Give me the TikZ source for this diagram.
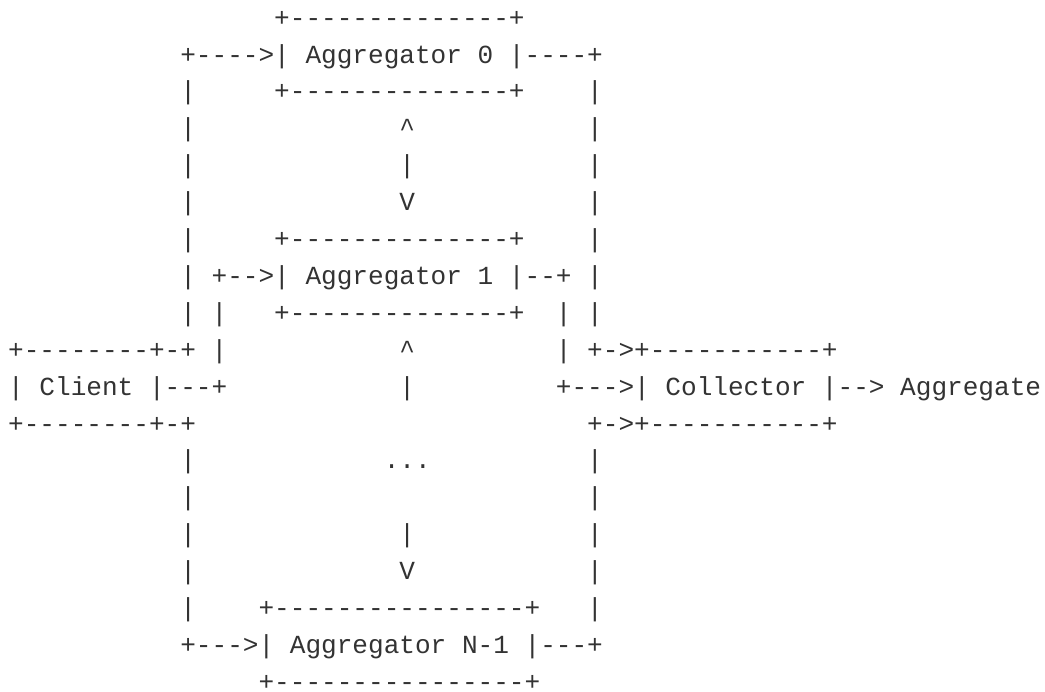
\documentclass[tikz,border=0pt]{standalone}
\usepackage{fontspec}
\setmonofont{Liberation Mono}
\definecolor{ink}{HTML}{333333}
\tikzset{asc/.style={anchor=base west, inner sep=0pt, outer sep=0pt, text depth=0pt,
  font=\ttfamily\fontsize{26.08}{30}\selectfont, text=ink}}
% \seg{name}{row}{column}{text}
\newcommand\seg[4]{\node[asc] (#1) at ({8.175+15.65*#3},{26.2+36.9*(#2-1)}) {#4};}
\begin{document}
\begin{tikzpicture}[x=1pt,y=-1pt]
\fill[white] (0,0) rectangle (1045,692);
\useasboundingbox (0,0) rectangle (1045,692);
% row 1
\seg{aggzt}{1}{17}{+--------------+}
% row 2
\seg{aggzl}{2}{11}{+---->|}
\seg{aggzn}{2}{19}{Aggregator}
\seg{aggzi}{2}{30}{0}
\seg{aggzr}{2}{32}{|----+}
% row 3
\seg{r3a}{3}{11}{|}
\seg{aggzb}{3}{17}{+--------------+}
\seg{r3b}{3}{37}{|}
% row 4
\seg{r4a}{4}{11}{|}
\seg{r4b}{4}{25}{\textasciicircum}
\seg{r4c}{4}{37}{|}
% row 5
\seg{r5a}{5}{11}{|}
\seg{r5b}{5}{25}{|}
\seg{r5c}{5}{37}{|}
% row 6
\seg{r6a}{6}{11}{|}
\seg{r6b}{6}{25}{V}
\seg{r6c}{6}{37}{|}
% row 7
\seg{r7a}{7}{11}{|}
\seg{aggot}{7}{17}{+--------------+}
\seg{r7b}{7}{37}{|}
% row 8
\seg{r8a}{8}{11}{|}
\seg{aggol}{8}{13}{+-->|}
\seg{aggon}{8}{19}{Aggregator}
\seg{aggoi}{8}{30}{1}
\seg{aggor}{8}{32}{|--+}
\seg{r8b}{8}{37}{|}
% row 9
\seg{r9a}{9}{11}{|}
\seg{r9b}{9}{13}{|}
\seg{aggob}{9}{17}{+--------------+}
\seg{r9c}{9}{35}{|}
\seg{r9d}{9}{37}{|}
% row 10
\seg{clit}{10}{0}{+--------+-+}
\seg{r10a}{10}{13}{|}
\seg{r10b}{10}{25}{\textasciicircum}
\seg{r10c}{10}{35}{|}
\seg{colt}{10}{37}{+->+-----------+}
% row 11
\seg{clil}{11}{0}{|}
\seg{clin}{11}{2}{Client}
\seg{clir}{11}{9}{|---+}
\seg{r11a}{11}{25}{|}
\seg{coll}{11}{35}{+--->|}
\seg{coln}{11}{42}{Collector}
\seg{colr}{11}{52}{|-->}
\seg{aggr}{11}{57}{Aggregate}
% row 12
\seg{clib}{12}{0}{+--------+-+}
\seg{colb}{12}{37}{+->+-----------+}
% row 13
\seg{r13a}{13}{11}{|}
\seg{dots}{13}{24}{...}
\seg{r13b}{13}{37}{|}
% row 14
\seg{r14a}{14}{11}{|}
\seg{r14b}{14}{37}{|}
% row 15
\seg{r15a}{15}{11}{|}
\seg{r15b}{15}{25}{|}
\seg{r15c}{15}{37}{|}
% row 16
\seg{r16a}{16}{11}{|}
\seg{r16b}{16}{25}{V}
\seg{r16c}{16}{37}{|}
% row 17
\seg{r17a}{17}{11}{|}
\seg{aggnt}{17}{16}{+----------------+}
\seg{r17b}{17}{37}{|}
% row 18
\seg{aggnl}{18}{11}{+--->|}
\seg{aggnn}{18}{18}{Aggregator}
\seg{aggni}{18}{29}{N-1}
\seg{aggnr}{18}{33}{|---+}
% row 19
\seg{aggnb}{19}{16}{+----------------+}
\end{tikzpicture}
\end{document}
